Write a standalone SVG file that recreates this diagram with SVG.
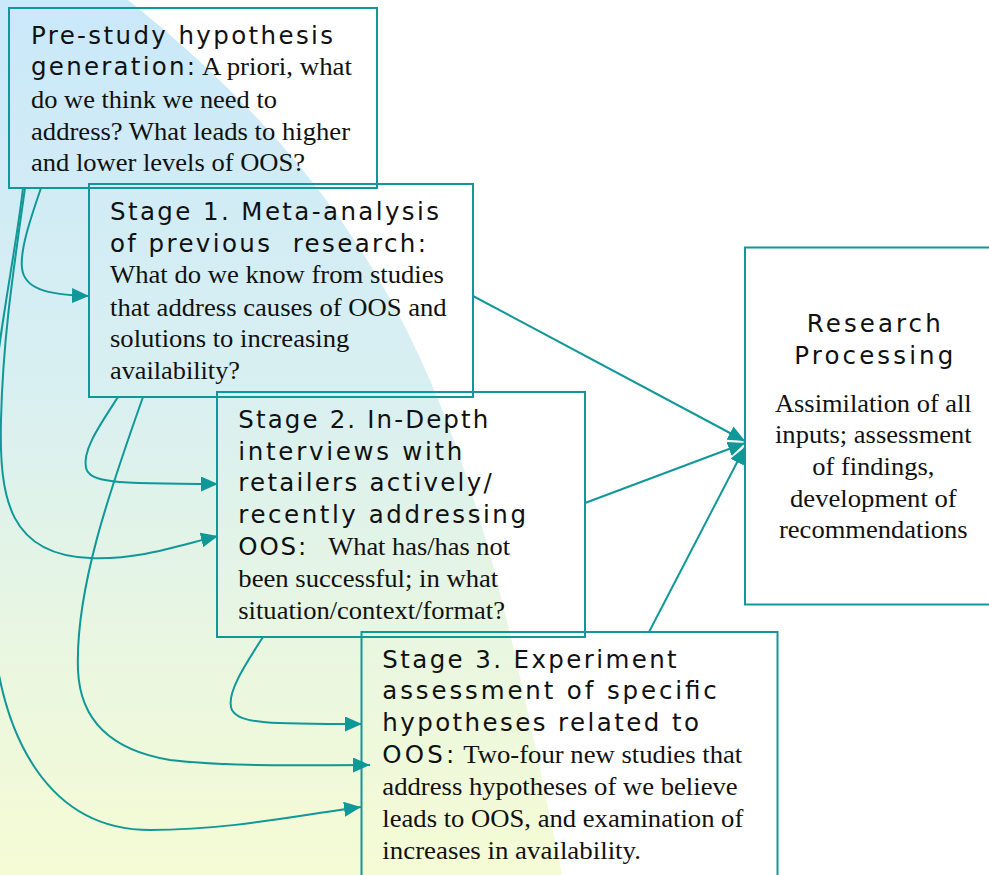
<svg xmlns="http://www.w3.org/2000/svg" width="989" height="875" viewBox="0 0 989 875">
<style>
.box{fill:none;stroke:#109898;stroke-width:2}
.con{fill:none;stroke:#109898;stroke-width:2}
.s{font-family:"DejaVu Sans","Liberation Sans",Arial,sans-serif;font-size:24.5px;fill:#111}
.r{font-family:"Liberation Serif","Times New Roman",serif;font-size:26px;fill:#111}
</style>
<defs>
<linearGradient id="bg" x1="0" y1="0" x2="0" y2="875" gradientUnits="userSpaceOnUse">
<stop offset="0" stop-color="#cae8fa"/>
<stop offset="0.45" stop-color="#d9f0f1"/>
<stop offset="0.72" stop-color="#e8f6e2"/>
<stop offset="1" stop-color="#f5fbd4"/>
</linearGradient>
<marker id="ah" markerUnits="userSpaceOnUse" markerWidth="17" markerHeight="15" refX="17" refY="7.5" orient="auto">
<path d="M0,0 L17,7.5 L0,15 Z" fill="#109898"/>
</marker>
</defs>
<path d="M0,0 L128,0 C440,250 480,480 562,875 L0,875 Z" fill="url(#bg)"/>
<g id="connectors">
<path class="con" marker-end="url(#ah)" d="M41,188 C30,220 20,250 22,268 C24,288 45,295 89,296"/>
<path class="con" marker-end="url(#ah)" d="M25,188 C12,280 3,340 1,420 C-1,500 10,555 90,558 C140,560 180,545 218,536"/>
<path class="con" marker-end="url(#ah)" d="M23,188 C10,300 -30,450 -8,620 C0,740 50,830 150,830 C230,830 300,815 361,807"/>
<path class="con" marker-end="url(#ah)" d="M118,397 C100,425 82,450 86,468 C90,482 110,484 218,484"/>
<path class="con" marker-end="url(#ah)" d="M143,397 C110,490 75,590 78,670 C80,720 110,750 170,760 C230,767 300,765 370,765"/>
<path class="con" marker-end="url(#ah)" d="M263,637 C245,665 225,695 232,710 C240,724 270,724 362,724"/>
<path class="con" marker-end="url(#ah)" d="M473,296 L745,441"/>
<path class="con" marker-end="url(#ah)" d="M585,503 L745,443"/>
<path class="con" marker-end="url(#ah)" d="M649,632 L745,447"/>
</g>
<g id="prestudy">
<rect class="box" x="9" y="8" width="368" height="180"/>
<text class="s" x="31" y="44" textLength="302" lengthAdjust="spacing">Pre-study hypothesis</text>
<text class="s" x="31" y="75" textLength="164" lengthAdjust="spacing">generation:</text>
<text class="r" x="202" y="75" textLength="150" lengthAdjust="spacingAndGlyphs">A priori, what</text>
<text class="r" x="31" y="108" textLength="246" lengthAdjust="spacingAndGlyphs">do we think we need to</text>
<text class="r" x="31" y="139.5" textLength="319" lengthAdjust="spacingAndGlyphs">address? What leads to higher</text>
<text class="r" x="31" y="170.5" textLength="274" lengthAdjust="spacingAndGlyphs">and lower levels of OOS?</text>
</g>
<g id="stage1">
<rect class="box" x="89" y="184" width="384" height="213"/>
<text class="s" x="110" y="220" textLength="329" lengthAdjust="spacing">Stage 1. Meta-analysis</text>
<text class="s" x="110" y="251.7" textLength="316" lengthAdjust="spacing" xml:space="preserve">of previous  research:</text>
<text class="r" x="110" y="283.3" textLength="334" lengthAdjust="spacingAndGlyphs">What do we know from studies</text>
<text class="r" x="110" y="315.7" textLength="336.7" lengthAdjust="spacingAndGlyphs">that address causes of OOS and</text>
<text class="r" x="110" y="346.7" textLength="239.3" lengthAdjust="spacingAndGlyphs">solutions to increasing</text>
<text class="r" x="110" y="379" textLength="130" lengthAdjust="spacingAndGlyphs">availability?</text>
</g>
<g id="stage2">
<rect class="box" x="217" y="392" width="368" height="245"/>
<text class="s" x="238.3" y="428" textLength="250" lengthAdjust="spacing">Stage 2. In-Depth</text>
<text class="s" x="238.3" y="459.7" textLength="224" lengthAdjust="spacing">interviews with</text>
<text class="s" x="238.3" y="491.3" textLength="253.4" lengthAdjust="spacing">retailers actively/</text>
<text class="s" x="238.3" y="523" textLength="287.7" lengthAdjust="spacing">recently addressing</text>
<text class="s" x="238.3" y="554.7" textLength="68" lengthAdjust="spacing">OOS:</text>
<text class="r" x="328.3" y="554.7" textLength="181.7" lengthAdjust="spacingAndGlyphs">What has/has not</text>
<text class="r" x="238.3" y="587" textLength="260" lengthAdjust="spacingAndGlyphs">been successful; in what</text>
<text class="r" x="238.3" y="619" textLength="266.7" lengthAdjust="spacingAndGlyphs">situation/context/format?</text>
</g>
<g id="stage3">
<rect class="box" x="361.5" y="632" width="416" height="260"/>
<text class="s" x="382.3" y="667.7" textLength="294.4" lengthAdjust="spacing">Stage 3. Experiment</text>
<text class="s" x="382.3" y="699" textLength="334.4" lengthAdjust="spacing">assessment of specific</text>
<text class="s" x="382.3" y="731" textLength="316.7" lengthAdjust="spacing">hypotheses related to</text>
<text class="s" x="382.3" y="762.7" textLength="72" lengthAdjust="spacing">OOS:</text>
<text class="r" x="463.3" y="762.7" textLength="279" lengthAdjust="spacingAndGlyphs">Two-four new studies that</text>
<text class="r" x="382.3" y="795" textLength="355.4" lengthAdjust="spacingAndGlyphs">address hypotheses of we believe</text>
<text class="r" x="382.3" y="827.3" textLength="361" lengthAdjust="spacingAndGlyphs">leads to OOS, and examination of</text>
<text class="r" x="382.3" y="859.3" textLength="258.7" lengthAdjust="spacingAndGlyphs">increases in availability.</text>
</g>
<g id="research">
<rect class="box" x="745" y="247.5" width="260" height="357"/>
<text class="s" x="806.7" y="331.7" textLength="134" lengthAdjust="spacing">Research</text>
<text class="s" x="794.3" y="364" textLength="159" lengthAdjust="spacing">Processing</text>
<text class="r" x="775" y="411.7" textLength="196.7" lengthAdjust="spacingAndGlyphs">Assimilation of all</text>
<text class="r" x="775" y="443.3" textLength="196.7" lengthAdjust="spacingAndGlyphs">inputs; assessment</text>
<text class="r" x="812.3" y="475" textLength="122" lengthAdjust="spacingAndGlyphs">of findings,</text>
<text class="r" x="790" y="506.7" textLength="166.7" lengthAdjust="spacingAndGlyphs">development of</text>
<text class="r" x="779" y="538.3" textLength="188.7" lengthAdjust="spacingAndGlyphs">recommendations</text>
</g>
</svg>
